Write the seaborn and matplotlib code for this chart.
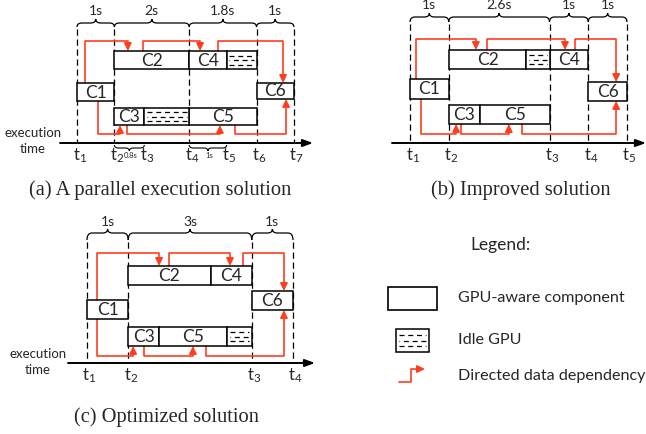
import matplotlib
matplotlib.use("Agg")
import matplotlib.pyplot as plt
from matplotlib.patches import Rectangle, PathPatch, FancyArrowPatch
from matplotlib.path import Path
import seaborn as sns

sns.set_theme(style="white")
plt.rcParams["font.family"] = ["Lato", "DejaVu Sans"]
plt.rcParams["mathtext.fontset"] = "custom"
plt.rcParams["mathtext.rm"] = "Lato"
plt.rcParams["mathtext.it"] = "Lato:italic"

RED = "#ff3d1f"

# ---- data (times in seconds) ----
# (a) A parallel execution solution
a_comp = ["C1", "C2", "C3", "C4", "C5", "C6"]
a_start = [0, 1, 1, 3, 3, 4.8]
a_end = [1, 3, 1.8, 4, 4.8, 5.8]
a_idle_start = [1.8, 4.0]
a_idle_end = [3.0, 4.8]
a_ticks = [0, 1, 1.8, 3, 4, 4.8, 5.8]
a_top_spans = [(0, 1, "1s"), (1, 3, "2s"), (3, 4.8, "1.8s"), (4.8, 5.8, "1s")]
a_low_spans = [(1, 1.8, "0.8s"), (3, 4, "1s")]
a_dep_src = ["C1", "C2", "C4", "C1", "C3", "C5"]
a_dep_dst = ["C2", "C4", "C6", "C3", "C5", "C6"]
a_src_off = [0.21, 0.76, 0.77, 0.56, 0.34, 1.22]
a_dst_off = [0.36, 0.29, 0.71, 0.15, 0.82, 0.79]

# (b) Improved solution
b_comp = ["C1", "C2", "C3", "C4", "C5", "C6"]
b_start = [0, 1, 1, 3.6, 1.8, 4.6]
b_end = [1, 3, 1.8, 4.6, 3.6, 5.6]
b_idle_start = [3.0]
b_idle_end = [3.6]
b_ticks = [0, 1, 3.6, 4.6, 5.6]
b_top_spans = [(0, 1, "1s"), (1, 3.6, "2.6s"), (3.6, 4.6, "1s"), (4.6, 5.6, "1s")]
b_low_spans = []
b_dep_src = ["C1", "C2", "C4", "C1", "C3", "C5"]
b_dep_dst = ["C2", "C4", "C6", "C3", "C5", "C6"]
b_src_off = [0.15, 0.99, 0.66, 0.28, 0.32, 1.09]
b_dst_off = [0.70, 0.40, 0.72, 0.19, 0.75, 0.72]

# (c) Optimized solution
c_comp = ["C1", "C2", "C3", "C4", "C5", "C6"]
c_start = [0, 1, 1, 3, 1.75, 4]
c_end = [1, 3, 1.75, 4, 3.4, 5]
c_idle_start = [3.4]
c_idle_end = [4.0]
c_ticks = [0, 1, 4, 5]
c_top_spans = [(0, 1, "1s"), (1, 4, "3s"), (4, 5, "1s")]
c_low_spans = []
c_dep_src = ["C1", "C2", "C4", "C1", "C3", "C5"]
c_dep_dst = ["C2", "C4", "C6", "C3", "C5", "C6"]
c_src_off = [0.24, 0.99, 0.79, 0.24, 0.38, 1.14]
c_dst_off = [0.75, 0.47, 0.78, 0.12, 0.82, 0.78]

lane_of = {"C1": "src", "C2": "top", "C4": "top", "C3": "bot", "C5": "bot", "C6": "sink"}
idle_lane_a = ["bot", "top"]
idle_lane_b = ["top"]
idle_lane_c = ["bot"]

# ---- layout (figure pixels) ----
W, H = 646, 434
geo_a = dict(x0=77, pxs=37.4, axis_y=143, axis_x=(60, 313), route=(41, 134),
             lanes={"top": (51, 69), "src": (83, 101), "sink": (83, 99), "bot": (108, 125)},
             brace=(27, 23, 19, 11), dash_top=29, caption=(160, 190, "(a) A parallel execution solution"),
             exec_xy=(33, 133))
geo_b = dict(x0=410, pxs=38.75, axis_y=143, axis_x=(392, 646), route=(39, 134),
             lanes={"top": (50, 69), "src": (79, 99), "sink": (82, 101), "bot": (105, 124)},
             brace=(22, 17, 13, 5), dash_top=24, caption=(521, 190, "(b) Improved solution"),
             exec_xy=None)
geo_c = dict(x0=87, pxs=41.2, axis_y=363, axis_x=(68, 315), route=(253, 356),
             lanes={"top": (266, 285), "src": (300, 319), "sink": (291, 310), "bot": (327, 346)},
             brace=(240, 233, 229, 222), dash_top=242, caption=(167, 417, "(c) Optimized solution"),
             exec_xy=(38, 354))

fig = plt.figure(figsize=(W / 100, H / 100), dpi=100)


def brace_path(xl, xr, y_end, y_line, y_tip, r):
    xm = (xl + xr) / 2
    verts = [(xl, y_end), (xl, y_line), (xl + r, y_line), (xm - r, y_line), (xm, y_line), (xm, y_tip),
             (xm, y_line), (xm + r, y_line), (xr - r, y_line), (xr, y_line), (xr, y_end)]
    codes = [Path.MOVETO, Path.CURVE3, Path.CURVE3, Path.LINETO, Path.CURVE3, Path.CURVE3,
             Path.CURVE3, Path.CURVE3, Path.LINETO, Path.CURVE3, Path.CURVE3]
    return Path(verts, codes)


def idle_box(ax, x1, x2, y1, y2, inset):
    ax.add_patch(Rectangle((x1, y1), x2 - x1, y2 - y1, fc="white", ec="black", lw=1.1, zorder=3))
    for i, f in enumerate([0.25, 0.5, 0.75]):
        yy = y1 + f * (y2 - y1)
        ax.plot([x1 + inset, x2 - inset], [yy, yy], color="black", lw=0.9,
                ls=((0 if i % 2 == 0 else 3.5), (4, 3)), zorder=4, solid_capstyle="butt")


def draw_panel(comp, start, end, idle_s, idle_e, idle_lane, ticks, top_spans, low_spans,
               dep_src, dep_dst, src_off, dst_off, g):
    ax = fig.add_axes([0, 0, 1, 1])
    s = g["pxs"]
    ax.set_xlim(-g["x0"] / s, (W - g["x0"]) / s)
    ax.set_ylim(H, 0)
    ax.axis("off")
    ax.patch.set_alpha(0)
    px = 1 / s
    lanes = g["lanes"]

    # time axis
    ay = g["axis_y"]
    xa0, xa1 = [(v - g["x0"]) / s for v in g["axis_x"]]
    ax.annotate("", xy=(xa1, ay), xytext=(xa0, ay),
                arrowprops=dict(arrowstyle="-|>,head_length=0.6,head_width=0.22", color="black",
                                lw=1.4, shrinkA=0, shrinkB=0, mutation_scale=10))

    # dashed marks only at the span boundaries, labels at every time point
    bounds = sorted({t for sp in top_spans for t in sp[:2]})
    for t in bounds:
        ax.plot([t, t], [g["dash_top"], ay], color="black", lw=0.9, ls=(0, (5, 3)), zorder=1)
    for i, t in enumerate(ticks):
        ax.text(t - 4.5 * px, ay + 3, r"$\mathrm{t}_{%d}$" % (i + 1), ha="left", va="top", fontsize=12)

    # braces on top
    ye, yl, yt, ylab = g["brace"]
    for t0, t1, lab in top_spans:
        ax.add_patch(PathPatch(brace_path(t0, t1, ye, yl, yt, 5 * px), fc="none", ec="black", lw=0.9))
        ax.text((t0 + t1) / 2, ylab, lab, ha="center", va="center", fontsize=10)
    for t0, t1, lab in low_spans:
        ax.add_patch(PathPatch(brace_path(t0, t1, ay + 2, ay + 5, ay + 8, 4 * px), fc="none", ec="black", lw=0.8))
        ax.text((t0 + t1) / 2 + 1 * px, ay + 13, lab, ha="center", va="center", fontsize=5.5)

    # components
    pos = {}
    for n, a, b in zip(comp, start, end):
        y1, y2 = lanes[lane_of[n]]
        pos[n] = (a, b, y1, y2)
        ax.add_patch(Rectangle((a, y1), b - a, y2 - y1, fc="white", ec="black", lw=1.1, zorder=3))
        ax.text((a + b) / 2, (y1 + y2) / 2 + 0.5, n, ha="center", va="center", fontsize=12.5, zorder=5)
    for a, b, ln in zip(idle_s, idle_e, idle_lane):
        y1, y2 = lanes[ln]
        idle_box(ax, a, b, y1, y2, 2.5 * px)

    # data dependencies
    rt, rb = g["route"]
    for sn, dn, so, do in zip(dep_src, dep_dst, src_off, dst_off):
        sa, sb, sy1, sy2 = pos[sn]
        da, db, dy1, dy2 = pos[dn]
        side = lane_of[sn] if lane_of[sn] in ("top", "bot") else lane_of[dn]
        xs, xd = sa + so, da + do
        if side == "top":
            verts = [(xs, sy1), (xs, rt), (xd, rt), (xd, dy1)]
        else:
            verts = [(xs, sy2), (xs, rb), (xd, rb), (xd, dy2)]
        ax.add_patch(FancyArrowPatch(path=Path(verts), arrowstyle="-|>,head_length=0.45,head_width=0.22",
                                     mutation_scale=10, color=RED, lw=1.2, zorder=2))

    if g["exec_xy"] is not None:
        ex, ey = g["exec_xy"]
        ax.text((ex - g["x0"]) / s, ey, "execution", ha="center", va="center", fontsize=9.5)
        ax.text((ex - g["x0"]) / s, ey + 16, "time", ha="center", va="center", fontsize=9.5)

    cx, cy, ctext = g["caption"]
    ax.text((cx - g["x0"]) / s, cy, ctext, ha="center", va="center", fontsize=14.8,
            family=["Liberation Serif", "DejaVu Serif"])


draw_panel(a_comp, a_start, a_end, a_idle_start, a_idle_end, idle_lane_a, a_ticks, a_top_spans,
           a_low_spans, a_dep_src, a_dep_dst, a_src_off, a_dst_off, geo_a)
draw_panel(b_comp, b_start, b_end, b_idle_start, b_idle_end, idle_lane_b, b_ticks, b_top_spans,
           b_low_spans, b_dep_src, b_dep_dst, b_src_off, b_dst_off, geo_b)
draw_panel(c_comp, c_start, c_end, c_idle_start, c_idle_end, idle_lane_c, c_ticks, c_top_spans,
           c_low_spans, c_dep_src, c_dep_dst, c_src_off, c_dst_off, geo_c)

# ---- legend ----
lg = fig.add_axes([0, 0, 1, 1])
lg.set_xlim(0, W)
lg.set_ylim(H, 0)
lg.axis("off")
lg.patch.set_alpha(0)
legend_labels = ["GPU-aware component", "Idle GPU", "Directed data dependency"]
lg.text(500, 245, "Legend:", ha="center", va="center", fontsize=12.5)
lg.add_patch(Rectangle((388, 287), 49, 23, fc="white", ec="black", lw=1.2))
idle_box(lg, 396, 429, 329, 352, 3)
lg.add_patch(FancyArrowPatch(path=Path([(399, 382), (411, 382), (411, 369), (425, 369)]),
                             arrowstyle="-|>,head_length=0.45,head_width=0.22", mutation_scale=10,
                             color=RED, lw=1.2))
for yy, lab in zip([298, 340, 376], legend_labels):
    lg.text(458, yy, lab, ha="left", va="center", fontsize=11.6)

fig.savefig("out.png", dpi=100)
